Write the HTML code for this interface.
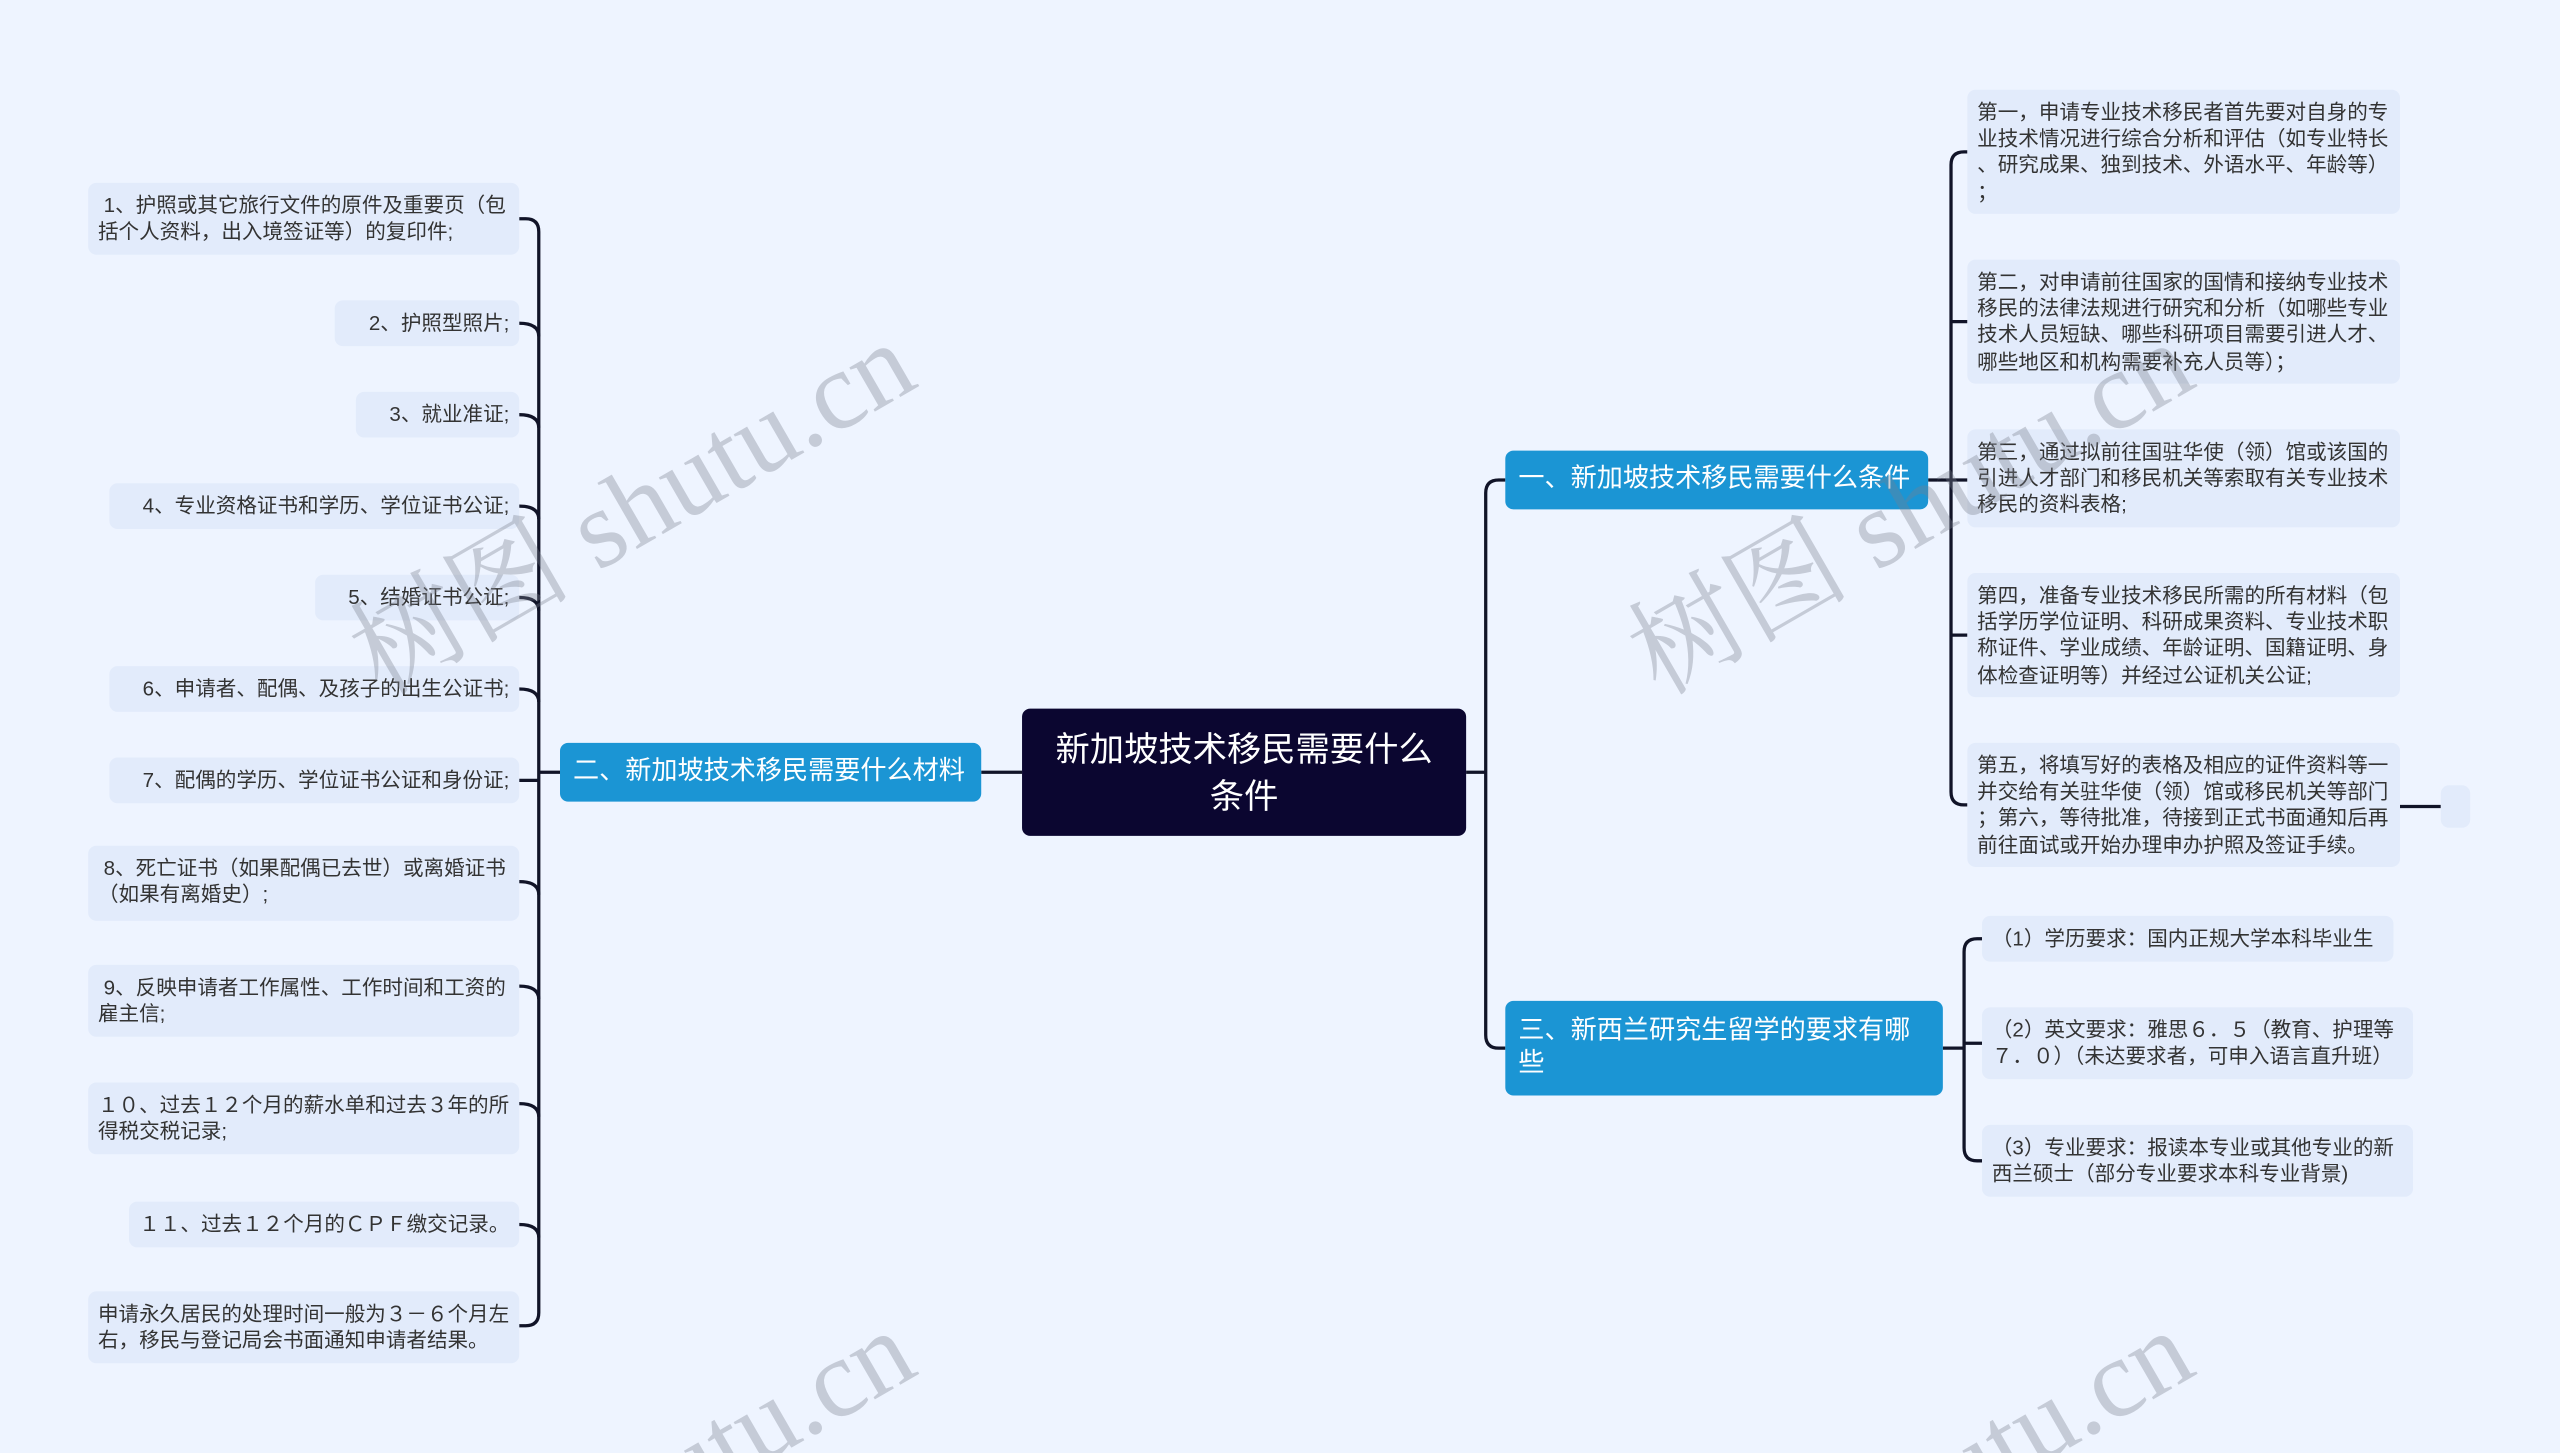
<!DOCTYPE html>
<html><head><meta charset="utf-8"><style>
html,body{margin:0;padding:0;background:#eef4ff;overflow:hidden;width:2560px;height:1453px;}
#wrap{width:2560px;height:1453px;overflow:hidden;position:relative;background:#eef4ff;}
#s{position:absolute;left:0;top:0;width:1568px;height:890px;overflow:hidden;transform:scale(1.632653);transform-origin:0 0;font-family:"Liberation Sans","Noto Sans CJK SC",sans-serif;}
.n{position:absolute;box-sizing:border-box;border-radius:5px;}
.leaf,.rl{background:#e2ebfb;color:#333;font-size:12.6px;line-height:16.2px;padding:6px 6px;white-space:nowrap;}
.br{background:#1b95d4;color:#fff;font-size:16px;line-height:20px;padding:8px 8px;}
.c{background:#0b0630;color:#fff;font-size:21px;line-height:29px;text-align:center;padding:11px 10px 7px;}
.wm{position:absolute;font-family:"Liberation Serif","Noto Serif CJK SC",serif;color:rgba(120,125,140,0.35);font-size:68px;white-space:nowrap;transform:rotate(-30deg);transform-origin:0 0;}
svg{position:absolute;left:0;top:0;}
</style></head><body><div id="wrap"><div id="s">
<svg width="1568" height="890" fill="none" stroke="#111428" stroke-width="2">
<path d="M601 473H626M898 473H910"/>
<path d="M922 294H918Q910 294 910 302V634Q910 642 918 642H922"/>
<path d="M1181 294H1187"/>
<path d="M1205 93H1203Q1195 93 1195 101V485Q1195 493 1203 493H1205M1187 294H1205M1195 197H1205M1195 389H1205"/>
<path d="M1470 494H1495"/>
<path d="M1190 642H1203"/>
<path d="M1214 575H1211Q1203 575 1203 583V703Q1203 711 1211 711H1214M1203 639H1214"/>
<path d="M343 473H330"/>
<path d="M318 134H322Q330 134 330 142V804Q330 812 322 812H318"/>
<path d="M318 198Q330 198 330 206M318 254Q330 254 330 262M318 310Q330 310 330 318M318 366Q330 366 330 374M318 422Q330 422 330 430M318 478H330M318 540Q330 540 330 548M318 604Q330 604 330 612M318 676Q330 676 330 684M318 750Q330 750 330 758"/>
</svg>
<div class="n c" style="left:626px;top:434px;width:272px;height:78px;">新加坡技术移民需要什么<br>条件</div>
<div class="n br" style="left:343px;top:455px;width:258px;height:36px;">二、新加坡技术移民需要什么材料</div>
<div class="n br" style="left:922px;top:276px;width:259px;height:36px;">一、新加坡技术移民需要什么条件</div>
<div class="n br" style="left:922px;top:613px;width:268px;height:58px;padding-top:9px;">三、新西兰研究生留学的要求有哪<br>些</div>

<div class="n leaf" style="left:54px;top:112px;width:264px;height:44px;">&nbsp;1、护照或其它旅行文件的原件及重要页（包<br>括个人资料，出入境签证等）的复印件;</div>
<div class="n leaf" style="left:205px;top:184px;width:113px;height:28px;text-align:right;">2、护照型照片;</div>
<div class="n leaf" style="left:218px;top:240px;width:100px;height:28px;text-align:right;">3、就业准证;</div>
<div class="n leaf" style="left:67px;top:296px;width:251px;height:28px;text-align:right;">4、专业资格证书和学历、学位证书公证;</div>
<div class="n leaf" style="left:193px;top:352px;width:125px;height:28px;text-align:right;">5、结婚证书公证;</div>
<div class="n leaf" style="left:67px;top:408px;width:251px;height:28px;text-align:right;">6、申请者、配偶、及孩子的出生公证书;</div>
<div class="n leaf" style="left:67px;top:464px;width:251px;height:28px;text-align:right;">7、配偶的学历、学位证书公证和身份证;</div>
<div class="n leaf" style="left:54px;top:518px;width:264px;height:46px;">&nbsp;8、死亡证书（如果配偶已去世）或离婚证书<br>（如果有离婚史）;</div>
<div class="n leaf" style="left:54px;top:591px;width:264px;height:44px;">&nbsp;9、反映申请者工作属性、工作时间和工资的<br>雇主信;</div>
<div class="n leaf" style="left:54px;top:663px;width:264px;height:44px;">１０、过去１２个月的薪水单和过去３年的所<br>得税交税记录;</div>
<div class="n leaf" style="left:79px;top:736px;width:239px;height:28px;text-align:right;">１１、过去１２个月的ＣＰＦ缴交记录。</div>
<div class="n leaf" style="left:54px;top:791px;width:264px;height:44px;">申请永久居民的处理时间一般为３－６个月左<br>右，移民与登记局会书面通知申请者结果。</div>

<div class="n rl" style="left:1205px;top:55px;width:265px;height:76px;">第一，申请专业技术移民者首先要对自身的专<br>业技术情况进行综合分析和评估（如专业特长<br>、研究成果、独到技术、外语水平、年龄等）<br>；</div>
<div class="n rl" style="left:1205px;top:159px;width:265px;height:76px;">第二，对申请前往国家的国情和接纳专业技术<br>移民的法律法规进行研究和分析（如哪些专业<br>技术人员短缺、哪些科研项目需要引进人才、<br>哪些地区和机构需要补充人员等）；</div>
<div class="n rl" style="left:1205px;top:263px;width:265px;height:60px;">第三，通过拟前往国驻华使（领）馆或该国的<br>引进人才部门和移民机关等索取有关专业技术<br>移民的资料表格;</div>
<div class="n rl" style="left:1205px;top:351px;width:265px;height:76px;">第四，准备专业技术移民所需的所有材料（包<br>括学历学位证明、科研成果资料、专业技术职<br>称证件、学业成绩、年龄证明、国籍证明、身<br>体检查证明等）并经过公证机关公证;</div>
<div class="n rl" style="left:1205px;top:455px;width:265px;height:76px;">第五，将填写好的表格及相应的证件资料等一<br>并交给有关驻华使（领）馆或移民机关等部门<br>；第六，等待批准，待接到正式书面通知后再<br>前往面试或开始办理申办护照及签证手续。</div>
<div class="n rl" style="left:1495px;top:481px;width:18px;height:26px;padding:0;"></div>

<div class="n rl" style="left:1214px;top:561px;width:252px;height:28px;">（1）学历要求：国内正规大学本科毕业生</div>
<div class="n rl" style="left:1214px;top:617px;width:264px;height:44px;">（2）英文要求：雅思６．５（教育、护理等<br>７．０）（未达要求者，可申入语言直升班）</div>
<div class="n rl" style="left:1214px;top:689px;width:264px;height:44px;">（3）专业要求：报读本专业或其他专业的新<br>西兰硕士（部分专业要求本科专业背景)</div>

<div class="wm" style="left:195px;top:360px;">树图 shutu.cn</div>
<div class="wm" style="left:978px;top:360px;">树图 shutu.cn</div>
<div class="wm" style="left:195px;top:965px;">树图 shutu.cn</div>
<div class="wm" style="left:978px;top:965px;">树图 shutu.cn</div>
</div></div></body></html>
